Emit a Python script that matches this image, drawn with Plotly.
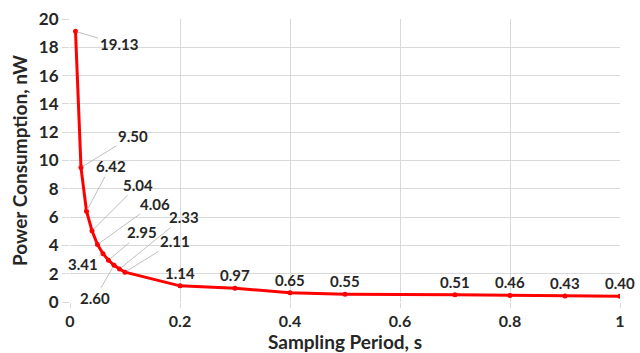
import plotly.graph_objects as go

period_s = [0.01, 0.02, 0.03, 0.04, 0.05, 0.06, 0.07, 0.08, 0.09, 0.1,
            0.2, 0.3, 0.4, 0.5, 0.7, 0.8, 0.9, 1.0]
power_nw = [19.13, 9.50, 6.42, 5.04, 4.06, 3.41, 2.95, 2.60, 2.33, 2.11,
            1.14, 0.97, 0.65, 0.55, 0.51, 0.46, 0.43, 0.40]
x_ticks = [0, 0.2, 0.4, 0.6, 0.8, 1]
x_tick_text = ["0", "0.2", "0.4", "0.6", "0.8", "1"]
y_ticks = [0, 2, 4, 6, 8, 10, 12, 14, 16, 18, 20]

# label offsets in pixels (dx, dy) relative to the point; None = plain label above
label_offsets = [(43, 13), (52, -32), (24, -45), (46, -46), (57, -41),
                 (-20, 10), (33, -28), (-19, 33), (64, -52), (50, -31),
                 None, None, None, None, None, None, None, None]

FONT = "Lato"
TXT = "#262626"

fig = go.Figure()
fig.add_trace(go.Scatter(
    x=period_s, y=power_nw, mode="lines+markers",
    line=dict(color="#ff0000", width=3),
    marker=dict(color="#ff0000", size=5),
    showlegend=False, hoverinfo="x+y"))

for xv, yv, off in zip(period_s, power_nw, label_offsets):
    txt = f"<b>{yv:.2f}</b>"
    if off is None:
        fig.add_annotation(x=xv, y=yv, text=txt, showarrow=False, yshift=13,
                           font=dict(family=FONT, size=15, color=TXT))
    else:
        fig.add_annotation(x=xv, y=yv, text=txt, showarrow=True, arrowhead=0,
                           arrowwidth=1, arrowcolor="#bfbfbf", ax=off[0], ay=off[1],
                           standoff=2,
                           font=dict(family=FONT, size=15, color=TXT))

fig.update_layout(
    width=640, height=353,
    margin=dict(l=70, r=20, t=19, b=51),
    paper_bgcolor="white", plot_bgcolor="white",
    font=dict(family=FONT, color=TXT),
    xaxis=dict(range=[0, 1], tickvals=x_ticks, ticktext=[f"<b>{t}</b>" for t in x_tick_text],
               showgrid=True, gridcolor="#d9d9d9", gridwidth=1,
               zeroline=False, showline=False, automargin=False,
               ticks="outside", ticklen=5, tickcolor="#d9d9d9",
               tickfont=dict(family=FONT, size=16, color=TXT),
               title=dict(text="<b>Sampling Period, s</b>", standoff=4,
                          font=dict(family=FONT, size=19, color=TXT))),
    yaxis=dict(range=[0, 20], tickvals=y_ticks,
               ticktext=[f"<b>{t}</b>" for t in y_ticks],
               showgrid=True, gridcolor="#d9d9d9", gridwidth=1,
               zeroline=False, showline=False, automargin=False,
               ticks="outside", ticklen=7, tickcolor="#d9d9d9",
               tickfont=dict(family=FONT, size=17, color=TXT),
               title=dict(text="<b>Power Consumption, nW</b>", standoff=6,
                          font=dict(family=FONT, size=19, color=TXT))),
)

fig.write_html("out.html")
